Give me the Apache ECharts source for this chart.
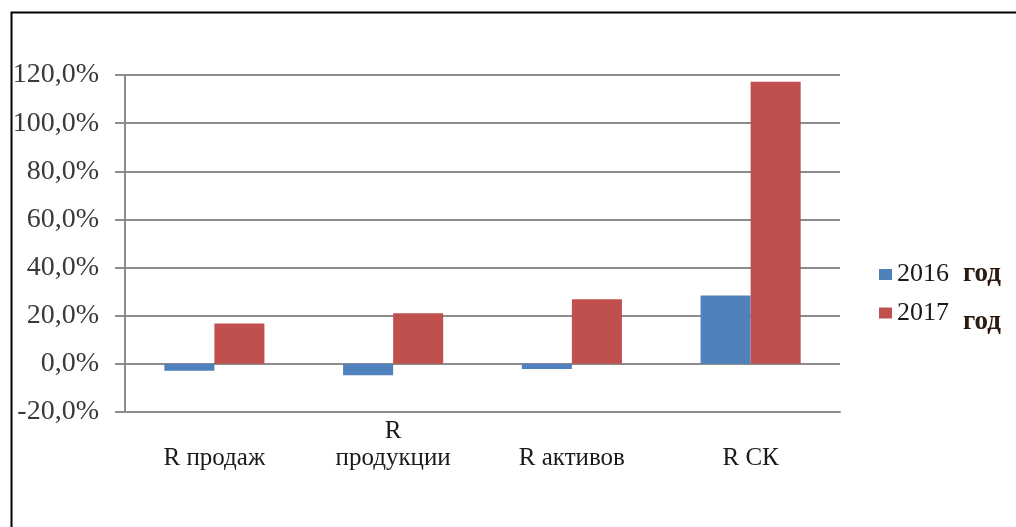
<!DOCTYPE html>
<html>
<head>
<meta charset="utf-8">
<script src="https://cdn.jsdelivr.net/npm/echarts@6/dist/echarts.min.js"></script>
<style>
  html, body { margin: 0; padding: 0; background: #fff; }
  #chart { width: 1016px; height: 527px; }
</style>
</head>
<body>
<div id="chart"></div>
<script>
// Показатели рентабельности, %
const categories = ['R продаж', 'R\nпродукции', 'R активов', 'R СК'];
const seriesNames = ['2016', '2017'];
const values2016 = [-2.9, -4.7, -2.1, 28.4];
const values2017 = [16.8, 21.0, 26.8, 117.2];
const yTicks = { min: -20, max: 120, step: 20 };

const serif = '"Liberation Serif", "Times New Roman", serif';

const chart = echarts.init(document.getElementById('chart'), null, { renderer: 'canvas' });

chart.setOption({
  animation: false,
  backgroundColor: '#ffffff',
  graphic: [{
    type: 'rect',
    left: 9, top: 10,
    shape: { width: 1030, height: 540 },
    style: { fill: 'none', stroke: '#000', lineWidth: 2 },
    silent: true
  }],
  grid: { left: 125, right: 176, top: 75, bottom: 115 },
  legend: {
    orient: 'vertical',
    left: 874,
    top: 256,
    itemWidth: 13,
    itemHeight: 11,
    itemGap: 12,
    icon: 'rect',
    textStyle: {
      fontFamily: serif,
      fontSize: 26,
      color: '#1a1a1a',
      rich: {
        g1: { fontFamily: serif, fontSize: 27, fontWeight: 'bold', color: '#2a1a10', padding: [0, 0, 0, 14] },
        g2: { fontFamily: serif, fontSize: 27, fontWeight: 'bold', color: '#2a1a10', padding: [18, 0, 0, 14] }
      }
    },
    formatter: function (name) {
      return name === seriesNames[0] ? name + '{g1|год}' : name + '{g2|год}';
    }
  },
  xAxis: {
    type: 'category',
    data: categories,
    axisLine: { onZero: false, lineStyle: { color: '#8c8c8c', width: 2 } },
    axisTick: { show: false },
    axisLabel: {
      fontFamily: serif,
      fontSize: 25,
      color: '#1a1a1a',
      lineHeight: 27,
      verticalAlign: 'bottom',
      margin: 60
    }
  },
  yAxis: {
    type: 'value',
    min: yTicks.min,
    max: yTicks.max,
    interval: yTicks.step,
    axisLine: { show: true, lineStyle: { color: '#8c8c8c', width: 2 } },
    axisTick: { show: true, length: 10, lineStyle: { color: '#8c8c8c', width: 2 } },
    splitLine: { lineStyle: { color: '#8c8c8c', width: 2 } },
    axisLabel: {
      fontFamily: serif,
      fontSize: 28,
      color: '#3a3a3a',
      margin: 26,
      formatter: function (v) { return v.toFixed(1).replace('.', ',') + '%'; }
    }
  },
  series: [
    {
      name: seriesNames[0],
      type: 'bar',
      data: values2016,
      barGap: '0%',
      barCategoryGap: '44%',
      itemStyle: { color: '#4f81bd' }
    },
    {
      name: seriesNames[1],
      type: 'bar',
      data: values2017,
      barGap: '0%',
      barCategoryGap: '44%',
      itemStyle: { color: '#c0504d' }
    }
  ]
});
</script>
</body>
</html>
